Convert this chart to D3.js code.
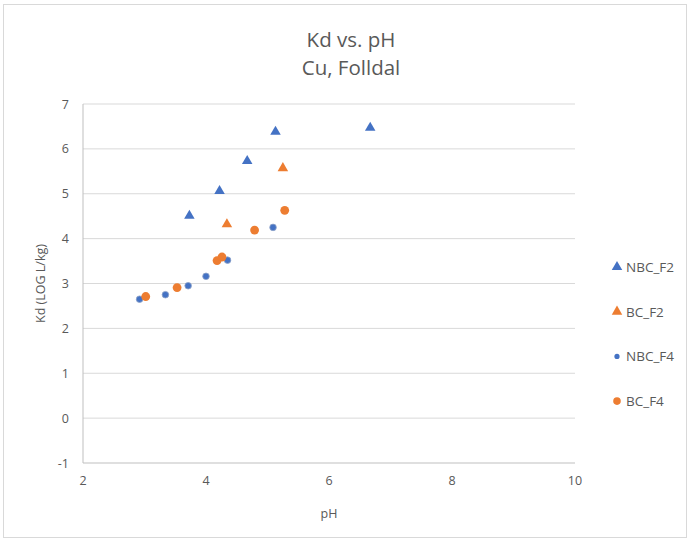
<!DOCTYPE html>
<html>
<head>
<meta charset="utf-8">
<script src="https://cdn.jsdelivr.net/npm/d3@7"></script>
<style>
body { margin: 0; background: #fff; }
text { font-family: "Open Sans", sans-serif; fill: #595959; }
</style>
</head>
<body>
<div id="main"></div>
<script>
// values
var nbcF2 = [[3.73, 4.51], [4.22, 5.06], [4.67, 5.73], [5.13, 6.38], [6.67, 6.47]];
var bcF2 = [[4.34, 4.32], [5.25, 5.57]];
var nbcF4 = [[2.92, 2.65], [3.34, 2.75], [3.71, 2.95], [4.0, 3.16], [4.35, 3.52], [5.09, 4.25]];
var bcF4 = [[3.02, 2.71], [3.53, 2.91], [4.18, 3.51], [4.26, 3.59], [4.79, 4.19], [5.28, 4.63]];
var xTicks = [2, 4, 6, 8, 10];
var yTicks = [-1, 0, 1, 2, 3, 4, 5, 6, 7];
var seriesNames = ["NBC_F2", "BC_F2", "NBC_F4", "BC_F4"];

var blue = "#4472C4", orange = "#ED7D31";

var svg = d3.select('#main')
  .append('svg')
  .attr("width", 690)
  .attr("height", 541);

// chart border
svg.append('rect')
  .attr("x", 3.5).attr("y", 4.5)
  .attr("width", 683).attr("height", 533)
  .attr("fill", "none")
  .attr("stroke", "#d9d9d9");

var x = d3.scaleLinear().domain([2, 10]).range([83, 575]);
var y = d3.scaleLinear().domain([-1, 7]).range([463, 104]);

var g = svg.append('g');

// gridlines
g.selectAll('line.grid')
  .data(yTicks.filter(d => d > -1))
  .enter()
  .append('line')
  .attr("class", "grid")
  .attr("x1", x(2)).attr("x2", x(10))
  .attr("y1", d => y(d)).attr("y2", d => y(d))
  .style("stroke", "#d9d9d9")
  .style("stroke-width", 1);

// axis lines
g.append('line')
  .attr("x1", x(2)).attr("x2", x(10))
  .attr("y1", y(-1)).attr("y2", y(-1))
  .style("stroke", "#bfbfbf");
g.append('line')
  .attr("x1", x(2)).attr("x2", x(2))
  .attr("y1", y(-1)).attr("y2", y(7))
  .style("stroke", "#bfbfbf");

// tick labels
g.selectAll('text.ytick')
  .data(yTicks)
  .enter()
  .append('text')
  .attr("class", "ytick")
  .attr("x", 69)
  .attr("y", d => y(d) + 4.5)
  .attr("text-anchor", "end")
  .style("font-size", "12.5px")
  .text(d => d);

g.selectAll('text.xtick')
  .data(xTicks)
  .enter()
  .append('text')
  .attr("class", "xtick")
  .attr("x", d => x(d))
  .attr("y", 485)
  .attr("text-anchor", "middle")
  .style("font-size", "12.5px")
  .text(d => d);

// titles
svg.append('text')
  .text("Kd vs. pH")
  .attr("x", 351).attr("y", 47)
  .attr("text-anchor", "middle")
  .style("font-size", "20.5px");
svg.append('text')
  .text("Cu, Folldal")
  .attr("x", 351).attr("y", 75)
  .attr("text-anchor", "middle")
  .style("font-size", "20.5px");

svg.append('text')
  .text("pH")
  .attr("x", x(6)).attr("y", 518)
  .attr("text-anchor", "middle")
  .style("font-size", "12.5px");

svg.append('text')
  .text("Kd (LOG L/kg)")
  .attr("transform", "translate(45," + y(3) + ")rotate(-90)")
  .attr("text-anchor", "middle")
  .style("font-size", "12.5px");

// markers
var tri = d3.symbol().type(d3.symbolTriangle).size(48);

g.selectAll('path.nbcf2')
  .data(nbcF2)
  .enter()
  .append('path')
  .attr("d", tri)
  .attr("transform", d => "translate(" + x(d[0]) + "," + y(d[1]) + ")")
  .style("fill", blue);

g.selectAll('path.bcf2')
  .data(bcF2)
  .enter()
  .append('path')
  .attr("d", tri)
  .attr("transform", d => "translate(" + x(d[0]) + "," + y(d[1]) + ")")
  .style("fill", orange);

g.selectAll('circle.nbcf4')
  .data(nbcF4)
  .enter()
  .append('circle')
  .attr("cx", d => x(d[0]))
  .attr("cy", d => y(d[1]))
  .attr("r", 3.3)
  .style("fill", blue)
  .style("stroke", "#8fa3c8")
  .style("stroke-width", 0.8);

g.selectAll('circle.bcf4')
  .data(bcF4)
  .enter()
  .append('circle')
  .attr("cx", d => x(d[0]))
  .attr("cy", d => y(d[1]))
  .attr("r", 4.4)
  .style("fill", orange);

// legend
var leg = svg.append('g').attr("transform", "translate(617,267)");
seriesNames.forEach(function (name, i) {
  var ly = i * 44.7;
  if (i < 2) {
    leg.append('path')
      .attr("d", d3.symbol().type(d3.symbolTriangle).size(48))
      .attr("transform", "translate(0," + ly + ")")
      .style("fill", i == 0 ? blue : orange);
  } else {
    leg.append('circle')
      .attr("cx", 0).attr("cy", ly)
      .attr("r", i == 2 ? 2.6 : 3.8)
      .style("fill", i == 2 ? blue : orange);
  }
  leg.append('text')
    .text(name)
    .attr("x", 9).attr("y", ly + 5)
    .style("font-size", "13.5px");
});
</script>
</body>
</html>
